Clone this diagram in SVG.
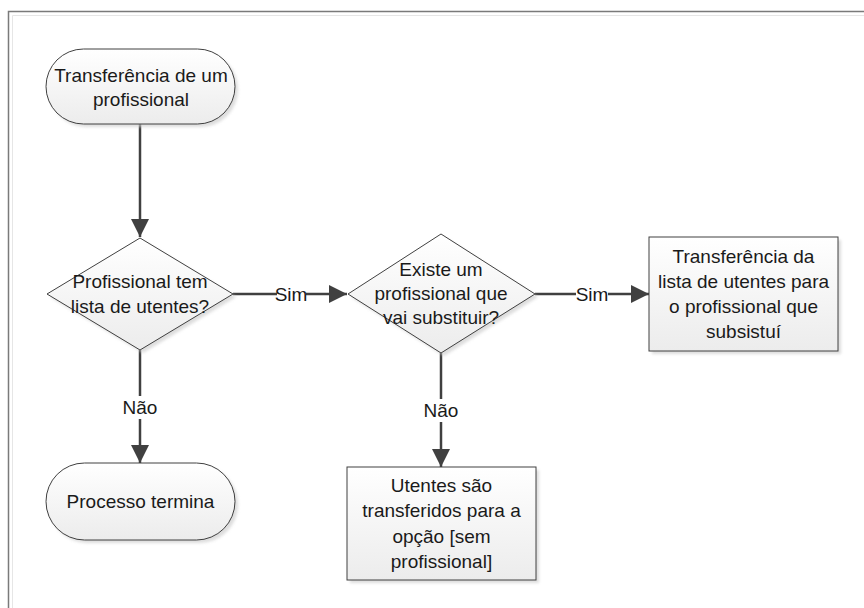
<svg xmlns="http://www.w3.org/2000/svg" width="864" height="608" viewBox="0 0 864 608">
  <defs>
    <linearGradient id="fillGrad" x1="0" y1="0" x2="0" y2="1">
      <stop offset="0" stop-color="#ffffff"/>
      <stop offset="1" stop-color="#ececec"/>
    </linearGradient>
    <filter id="soft" x="-10%" y="-10%" width="130%" height="130%">
      <feGaussianBlur stdDeviation="1.5"/>
    </filter>
    <marker id="arrow" viewBox="0 0 18 18" refX="18" refY="9" markerWidth="18" markerHeight="18" markerUnits="userSpaceOnUse" orient="auto">
      <path d="M0,0 L18,9 L0,18 Z" fill="#404040"/>
    </marker>
  </defs>
  <style>
    .shape { fill: url(#fillGrad); stroke: #404040; stroke-width: 1; }
    .shadow { fill: #cfcfcf; opacity: 0.7; filter: url(#soft); }
    .txt { font-family: "Liberation Sans", Arial, sans-serif; font-size: 19px; fill: #1a1a1a; text-anchor: middle; }
    .conn { stroke: #404040; stroke-width: 2.5; fill: none; }
    .lbl { font-family: "Liberation Sans", Arial, sans-serif; font-size: 19px; fill: #1a1a1a; text-anchor: middle; }
  </style>

  <rect width="864" height="608" fill="#ffffff"/>

  <!-- page frame -->
  <path d="M8.5,608 V11.5 H864" fill="none" stroke="#7a7a7a" stroke-width="1.5"/>
  <path d="M12.5,608 V15.5 H864" fill="none" stroke="#e6e6e6" stroke-width="1"/>

  <!-- connectors -->
  <g id="connectors">
    <path class="conn" d="M140,124 V237" marker-end="url(#arrow)"/>
    <path class="conn" d="M233,294 H277"/>
    <path class="conn" d="M306,294 H347" marker-end="url(#arrow)"/>
    <path class="conn" d="M535,294 H576"/>
    <path class="conn" d="M608,294 H649" marker-end="url(#arrow)"/>
    <path class="conn" d="M140,350 V396"/>
    <path class="conn" d="M140,419 V463" marker-end="url(#arrow)"/>
    <path class="conn" d="M441,353 V399"/>
    <path class="conn" d="M441,422 V467" marker-end="url(#arrow)"/>
    <text class="lbl" x="291" y="301">Sim</text>
    <text class="lbl" x="592" y="301">Sim</text>
    <text class="lbl" x="140" y="414">Não</text>
    <text class="lbl" x="441" y="417">Não</text>
  </g>

  <!-- start terminator -->
  <g id="start">
    <rect class="shadow" x="49" y="52" width="189" height="75" rx="37.5"/>
    <rect class="shape" x="46" y="49" width="189" height="75" rx="37.5"/>
    <text class="txt" x="141" y="82">Transferência de um</text>
    <text class="txt" x="141" y="106">profissional</text>
  </g>

  <!-- decision: has patient list -->
  <g id="decision-list">
    <polygon class="shadow" points="143,241 236,297 143,353 50,297"/>
    <polygon class="shape" points="140,238 233,294 140,350 47,294"/>
    <text class="txt" x="140" y="288">Profissional tem</text>
    <text class="txt" x="140" y="313">lista de utentes?</text>
  </g>

  <!-- decision: replacement exists -->
  <g id="decision-replacement">
    <polygon class="shadow" points="444,237 538,297 444,356 351,297"/>
    <polygon class="shape" points="441,234 535,294 441,353 348,294"/>
    <text class="txt" x="441" y="276">Existe um</text>
    <text class="txt" x="441" y="300">profissional que</text>
    <text class="txt" x="441" y="324">vai substituir?</text>
  </g>

  <!-- process: transfer list -->
  <g id="transfer-list">
    <rect class="shadow" x="652" y="240" width="189" height="114"/>
    <rect class="shape" x="649" y="237" width="189" height="114"/>
    <text class="txt" x="743.5" y="263">Transferência da</text>
    <text class="txt" x="743.5" y="288">lista de utentes para</text>
    <text class="txt" x="743.5" y="313">o profissional que</text>
    <text class="txt" x="743.5" y="338">subsistuí</text>
  </g>

  <!-- end terminator -->
  <g id="end">
    <rect class="shadow" x="49" y="466" width="189" height="77" rx="38.5"/>
    <rect class="shape" x="46" y="463" width="189" height="77" rx="38.5"/>
    <text class="txt" x="140.5" y="508">Processo termina</text>
  </g>

  <!-- process: move to no-professional option -->
  <g id="no-professional">
    <rect class="shadow" x="350" y="470" width="189" height="113"/>
    <rect class="shape" x="347" y="467" width="189" height="113"/>
    <text class="txt" x="441.5" y="492">Utentes são</text>
    <text class="txt" x="441.5" y="517">transferidos para a</text>
    <text class="txt" x="441.5" y="543">opção [sem</text>
    <text class="txt" x="441.5" y="568">profissional]</text>
  </g>
</svg>
